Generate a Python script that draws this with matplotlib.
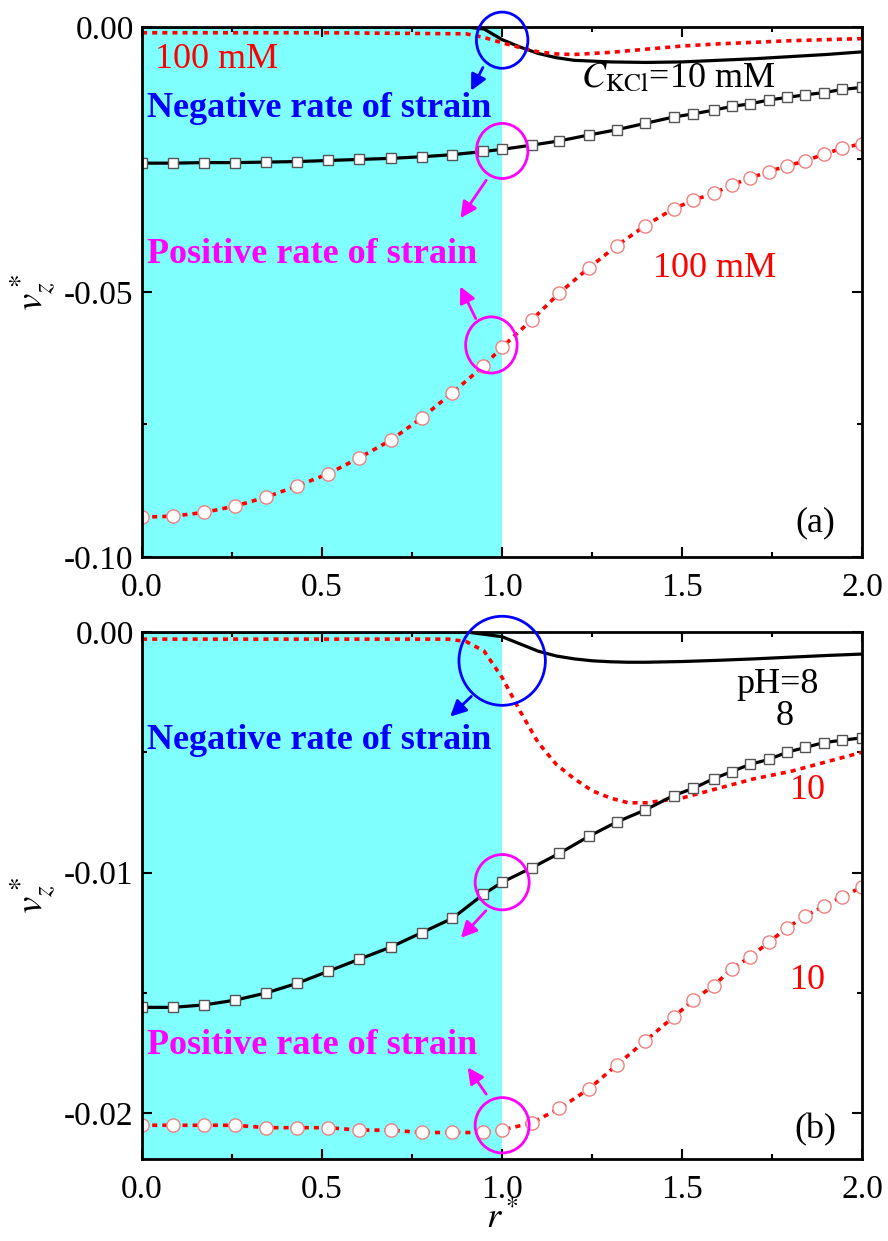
import numpy as np
import matplotlib.pyplot as plt
from matplotlib.patches import Ellipse
from matplotlib.ticker import MultipleLocator

plt.rcParams['font.family'] = ['Liberation Serif', 'DejaVu Serif']
plt.rcParams['mathtext.fontset'] = 'stix'

# ---- panel (a) data ----
r_mk = [0.0, 0.086, 0.172, 0.259, 0.345, 0.431, 0.517, 0.603, 0.690, 0.776, 0.862, 0.948,
        1.0, 1.082, 1.159, 1.240, 1.318, 1.397, 1.476, 1.531, 1.587, 1.638, 1.689, 1.740,
        1.791, 1.842, 1.893, 1.944, 2.0]
sq_a = [-0.0257, -0.0257, -0.0256, -0.0256, -0.0255, -0.0254, -0.0252, -0.0250, -0.0248,
        -0.0245, -0.0241, -0.0235, -0.0231, -0.0223, -0.0215, -0.0204, -0.0194, -0.0182,
        -0.0170, -0.0164, -0.0157, -0.0150, -0.0145, -0.0138, -0.0133, -0.0128, -0.0124,
        -0.0118, -0.0114]
ci_a = [-0.0925, -0.0923, -0.0916, -0.0904, -0.0887, -0.0866, -0.0843, -0.0813, -0.0780,
        -0.0738, -0.0690, -0.0640, -0.0604, -0.0553, -0.0502, -0.0455, -0.0413, -0.0375,
        -0.0343, -0.0327, -0.0314, -0.0298, -0.0285, -0.0273, -0.0262, -0.0253, -0.0240,
        -0.0229, -0.0220]

r_top_a = [0.0, 0.5, 0.9, 0.95, 1.0, 1.05, 1.1, 1.15, 1.2, 1.3, 1.4, 1.5, 1.6, 1.7, 1.8, 1.9, 2.0]
blk_a = [0.0, 0.0, 0.0, -0.0004, -0.0024, -0.0038, -0.0050, -0.0058, -0.0063, -0.0066,
         -0.0067, -0.0066, -0.0063, -0.0060, -0.0056, -0.0052, -0.0047]
red_a = [-0.0011, -0.0011, -0.0013, -0.0020, -0.0030, -0.0039, -0.0047, -0.0051, -0.0052,
         -0.0048, -0.0042, -0.0036, -0.0032, -0.0029, -0.0026, -0.0024, -0.0022]

# ---- panel (b) data ----
sq_b = [-0.0156, -0.0156, -0.0155, -0.0153, -0.0150, -0.0146, -0.0141, -0.0136, -0.0131,
        -0.0125, -0.0119, -0.0109, -0.0104, -0.0098, -0.0092, -0.0085, -0.0079, -0.0074,
        -0.0068, -0.0065, -0.0061, -0.0058, -0.0055, -0.0053, -0.0050, -0.0048, -0.0046,
        -0.0045, -0.0044]
ci_b = [-0.0205, -0.0205, -0.0205, -0.0205, -0.0206, -0.0206, -0.0206, -0.0207, -0.0207,
        -0.0208, -0.0208, -0.0208, -0.0207, -0.0204, -0.0198, -0.0190, -0.0180, -0.0170,
        -0.0160, -0.0153, -0.0147, -0.0140, -0.0135, -0.0129, -0.0123, -0.0118, -0.0114,
        -0.0110, -0.0106]

r_top_b = [0.0, 0.85, 0.9, 0.95, 1.0, 1.05, 1.1, 1.15, 1.2, 1.25, 1.3, 1.35, 1.4, 1.5,
           1.6, 1.7, 1.8, 1.9, 2.0]
blk_b = [0.0, 0.0, 0.0, -0.0001, -0.0002, -0.0005, -0.0008, -0.00100, -0.00112, -0.00120,
         -0.00124, -0.00126, -0.00126, -0.00123, -0.00118, -0.00112, -0.00105, -0.00098,
         -0.00092]
red_b = [-0.0003, -0.0003, -0.0004, -0.0008, -0.0019, -0.0033, -0.0046, -0.0055, -0.0061,
         -0.0066, -0.0069, -0.0071, -0.0071, -0.0069, -0.0065, -0.0061, -0.0058, -0.0054,
         -0.0050]

CYAN = '#80FFFF'
MAG = '#FF00FF'
BLUE = '#0000FF'
DOT = (0, (1.4, 1.4))

fig = plt.figure(figsize=(8.88, 12.41), dpi=100)
axa = fig.add_axes([0.160, 0.5512, 0.811, 0.4271])
axb = fig.add_axes([0.160, 0.0661, 0.811, 0.4247])


def style(ax, ylim, major, minor):
    ax.set_xlim(0, 2)
    ax.set_ylim(*ylim)
    ax.axvspan(0, 1, color=CYAN, lw=0, zorder=0)
    ax.xaxis.set_major_locator(MultipleLocator(0.5))
    ax.xaxis.set_minor_locator(MultipleLocator(0.25))
    ax.yaxis.set_major_locator(MultipleLocator(major))
    ax.yaxis.set_minor_locator(MultipleLocator(minor))
    ax.tick_params(which='both', direction='in', top=True, right=True, width=1.5,
                   labelsize=24)
    ax.tick_params(axis='x', pad=11)
    ax.tick_params(axis='y', pad=6)
    ax.tick_params(which='major', length=7)
    ax.tick_params(which='minor', length=3.5)
    for s in ax.spines.values():
        s.set_linewidth(2)
        s.set_zorder(5)
    ax.yaxis.set_major_formatter(plt.FormatStrFormatter('%.2f'))
    ax.xaxis.set_major_formatter(plt.FormatStrFormatter('%.1f'))
    ax.set_ylabel(r'$v_z^*$', fontsize=28, labelpad=4)


def curves(ax, sq, ci, rt, blk, red):
    ax.plot(rt, blk, color='black', lw=2.3, zorder=3)
    ax.plot(rt, red, color='red', lw=2.6, ls=DOT, zorder=3)
    ax.plot(r_mk, sq, color='black', lw=2.3, marker='s', ms=7.5, mfc='white',
            mec='#555555', mew=1, zorder=3)
    ax.plot(r_mk, ci, color='red', lw=2.6, ls=DOT, marker='o', ms=9.5,
            mfc='white', mec='#F08080', mew=1, zorder=3)


def ring(ax, xy, w, h, col):
    ax.add_patch(Ellipse(xy, w, h, fill=False, ec=col, lw=2, zorder=6, clip_on=False))


def arrow(ax, p0, p1, col):
    ax.annotate('', xy=p1, xytext=p0,
                arrowprops=dict(arrowstyle='-|>', color=col, lw=2, mutation_scale=24),
                zorder=6)


TXT = 26

# ---- (a) ----
style(axa, (-0.1, 0.0), 0.05, 0.025)
curves(axa, sq_a, ci_a, r_top_a, blk_a, red_a)
axa.text(0.035, -0.0062, '100 mM', color='red', fontsize=TXT, va='center')
axa.text(0.015, -0.0153, 'Negative rate of strain', color=BLUE, fontsize=TXT,
         fontweight='bold', va='center')
axa.text(1.22, -0.0098, r'$C_{\rm KCl}$=10 mM', fontsize=TXT, va='center')
axa.text(0.015, -0.0430, 'Positive rate of strain', color=MAG, fontsize=TXT,
         fontweight='bold', va='center')
axa.text(1.42, -0.0455, '100 mM', color='red', fontsize=TXT, va='center')
axa.text(1.87, -0.0935, '(a)', fontsize=TXT, va='center', ha='center')
ring(axa, (1.0, -0.0025), 0.143, 0.0106, BLUE)
arrow(axa, (0.95, -0.0072), (0.91, -0.0125), BLUE)
ring(axa, (1.0, -0.0234), 0.143, 0.0104, MAG)
arrow(axa, (0.96, -0.0285), (0.88, -0.0365), MAG)
ring(axa, (0.97, -0.0600), 0.143, 0.0106, MAG)
arrow(axa, (0.93, -0.0555), (0.88, -0.0485), MAG)

# ---- (b) ----
style(axb, (-0.0219, 0.0), 0.01, 0.005)
curves(axb, sq_b, ci_b, r_top_b, blk_b, red_b)
axb.set_xlabel(r'$r^*$', fontsize=26, labelpad=-2)
axb.text(0.015, -0.0045, 'Negative rate of strain', color=BLUE, fontsize=TXT,
         fontweight='bold', va='center')
axb.text(1.65, -0.0022, 'pH=8', fontsize=TXT, va='center')
axb.text(1.76, -0.0035, '8', fontsize=TXT, va='center')
axb.text(1.80, -0.0066, '10', color='red', fontsize=TXT, va='center')
axb.text(1.80, -0.0145, '10', color='red', fontsize=TXT, va='center')
axb.text(0.015, -0.0172, 'Positive rate of strain', color=MAG, fontsize=TXT,
         fontweight='bold', va='center')
axb.text(1.87, -0.0207, '(b)', fontsize=TXT, va='center', ha='center')
ring(axb, (1.0, -0.0012), 0.24, 0.0037, BLUE)
arrow(axb, (0.92, -0.0026), (0.85, -0.0036), BLUE)
ring(axb, (1.0, -0.0104), 0.15, 0.0023, MAG)
arrow(axb, (0.96, -0.0115), (0.88, -0.0128), MAG)
ring(axb, (1.0, -0.0205), 0.15, 0.0023, MAG)
arrow(axb, (0.96, -0.0193), (0.90, -0.0180), MAG)

fig.savefig('out.png', dpi=100)
